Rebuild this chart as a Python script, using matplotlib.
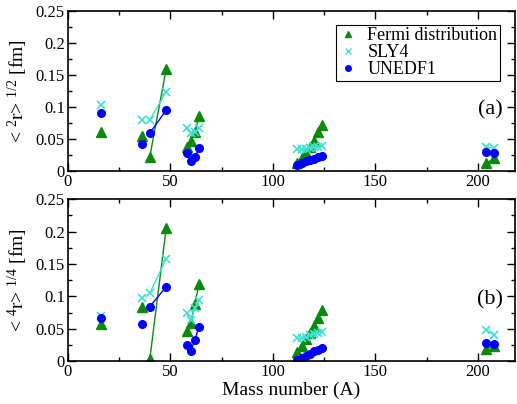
import numpy as np
import matplotlib.pyplot as plt
from matplotlib.lines import Line2D
from matplotlib.ticker import MultipleLocator, FormatStrFormatter

plt.rcParams['font.family'] = ['Liberation Serif', 'DejaVu Serif']
plt.rcParams['mathtext.fontset'] = 'custom'
plt.rcParams['mathtext.rm'] = 'Liberation Serif'
plt.rcParams['mathtext.it'] = 'Liberation Serif:italic'

# mass numbers, grouped by element (isotopes of one element are joined)
A_O = [16]
A_S = [36]
A_Ca = [40, 48]
A_Ni = [58, 60, 62, 64]
A_Sn = [112, 114, 116, 118, 120, 122, 124]
A_Pb = [204, 208]
groups = [A_O, A_S, A_Ca, A_Ni, A_Sn, A_Pb]

# panel (a): <r^2>^(1/2) differences [fm]
fermi_a = [[0.061], [0.054], [0.022, 0.159], [0.038, 0.046, 0.061, 0.085],
           [0.012, 0.020, 0.028, 0.038, 0.047, 0.060, 0.071], [0.012, 0.020]]
sly4_a = [[0.103], [0.080], [0.080, 0.123], [0.067, 0.059, 0.060, 0.067],
          [0.034, 0.034, 0.034, 0.036, 0.037, 0.038, 0.039], [0.038, 0.035]]
unedf1_a = [[0.090], [0.042], [0.059, 0.095], [0.028, 0.015, 0.022, 0.035],
            [0.009, 0.012, 0.015, 0.017, 0.019, 0.021, 0.024], [0.030, 0.028]]

# panel (b): <r^4>^(1/4) differences [fm]
fermi_b = [[0.057], [0.084], [0.003, 0.205], [0.047, 0.059, 0.089, 0.119],
           [0.014, 0.024, 0.034, 0.044, 0.055, 0.067, 0.079], [0.019, 0.024]]
sly4_b = [[0.070], [0.098], [0.105, 0.158], [0.074, 0.063, 0.082, 0.094],
          [0.035, 0.036, 0.038, 0.040, 0.042, 0.044, 0.045], [0.048, 0.041]]
unedf1_b = [[0.067], [0.058], [0.084, 0.115], [0.025, 0.016, 0.033, 0.053],
            [0.002, 0.005, 0.008, 0.011, 0.015, 0.018, 0.020], [0.028, 0.026]]

green = '#0b8a0b'
cyan = '#40e0d0'
blue = '#0000ff'

fig = plt.figure(figsize=(5.17, 4.04), dpi=100)
ax1 = fig.add_axes([0.131, 0.577, 0.865, 0.396])
ax2 = fig.add_axes([0.131, 0.106, 0.865, 0.401])


def draw(ax, fermi, sly4, unedf1):
    for i, A in enumerate(groups):
        ax.plot(A, fermi[i], '-^', color=green, ms=6.5, lw=1)
        ax.plot(A, sly4[i], '-x', color=cyan, ms=6, mew=1.2, lw=1)
        ax.plot(A, unedf1[i], '-o', color=blue, ms=5.5, lw=1)
    ax.set_xlim(0, 218)
    ax.set_ylim(0, 0.25)
    ax.xaxis.set_major_locator(MultipleLocator(50))
    ax.xaxis.set_minor_locator(MultipleLocator(25))
    ax.yaxis.set_major_locator(MultipleLocator(0.05))
    ax.yaxis.set_minor_locator(MultipleLocator(0.025))
    ax.yaxis.set_major_formatter(FormatStrFormatter('%g'))
    ax.tick_params(which='both', direction='in', top=True, right=True,
                   labelsize=12, width=1)
    ax.tick_params(which='major', length=6, pad=2)
    ax.tick_params(which='minor', length=3)
    for s in ax.spines.values():
        s.set_linewidth(1.2)


draw(ax1, fermi_a, sly4_a, unedf1_a)
draw(ax2, fermi_b, sly4_b, unedf1_b)

handles = [Line2D([], [], ls='none', marker='^', color=green, ms=5),
           Line2D([], [], ls='none', marker='x', color=cyan, ms=4.5, mew=1),
           Line2D([], [], ls='none', marker='o', color=blue, ms=4)]
labels = ['Fermi distribution', 'SLY4', 'UNEDF1']
leg = ax1.legend(handles, labels, loc='upper right',
                 bbox_to_anchor=(0.967, 0.915), numpoints=1,
                 fontsize=13, fancybox=False, framealpha=1, edgecolor='black',
                 handlelength=1.0, handletextpad=0.6, borderpad=0.15,
                 labelspacing=0.0, borderaxespad=0)
leg.get_frame().set_linewidth(0.8)

ax1.text(0.945, 0.38, '(a)', transform=ax1.transAxes, fontsize=16,
         ha='center', va='center')
ax2.text(0.945, 0.38, '(b)', transform=ax2.transAxes, fontsize=16,
         ha='center', va='center')

ax1.set_ylabel(r'< $^2$r> $^{1/2}$ [fm]', fontsize=14, labelpad=4)
ax2.set_ylabel(r'< $^4$r> $^{1/4}$ [fm]', fontsize=14, labelpad=4)
ax2.set_xlabel('Mass number (A)', fontsize=14, labelpad=1)

fig.savefig('out.png', dpi=100)
